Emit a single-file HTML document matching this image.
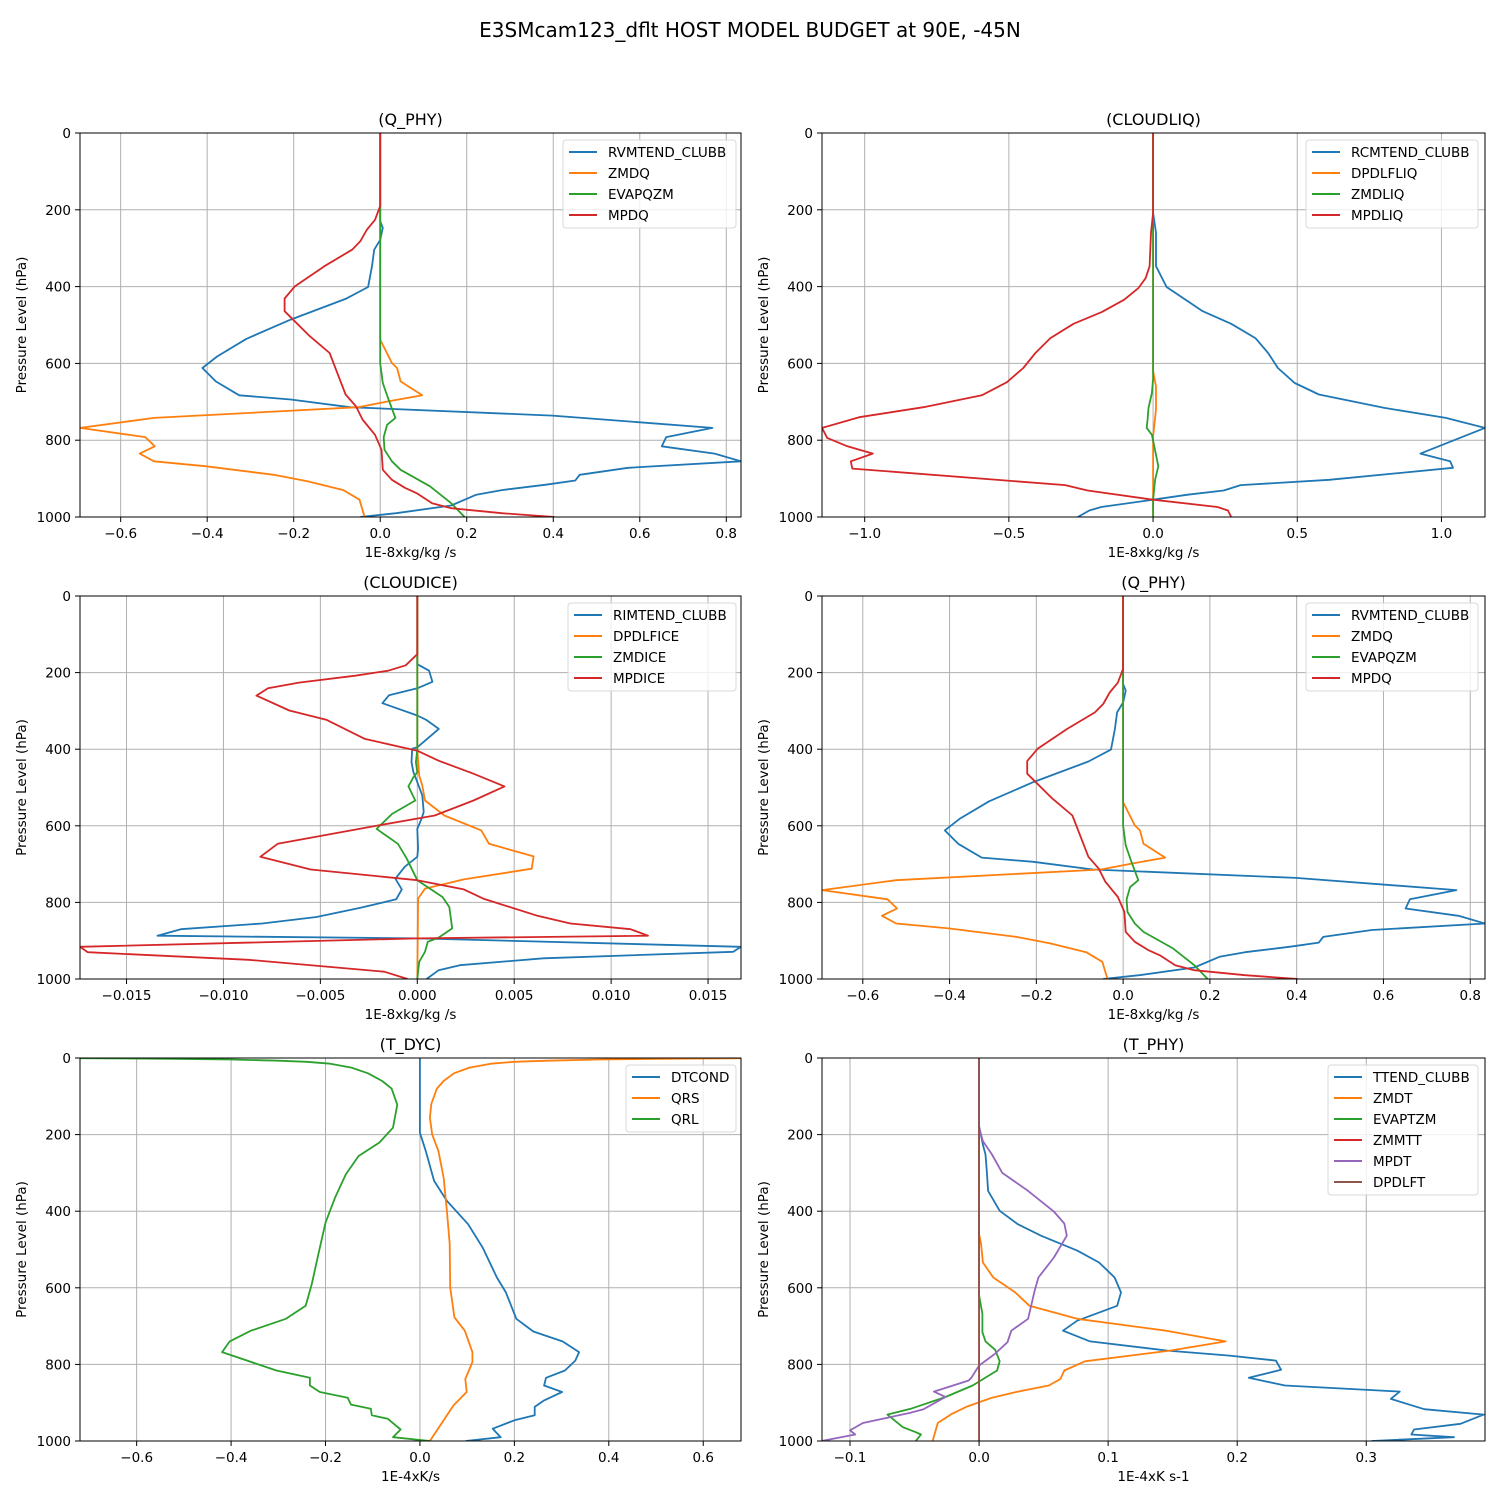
<!DOCTYPE html>
<html><head><meta charset="utf-8"><style>
html,body{margin:0;padding:0;background:#fff;}
svg text{font-family:"DejaVu Sans","Liberation Sans",sans-serif;fill:#000;}
</style></head><body>
<svg id="fig" width="1500" height="1500" viewBox="0 0 1500 1500" xmlns="http://www.w3.org/2000/svg">
<rect width="1500" height="1500" fill="#fff"/>
<text x="750" y="37" font-size="20" text-anchor="middle">E3SMcam123_dflt HOST MODEL BUDGET at 90E, -45N</text>
</svg>
<script>
// ---- Panel 1 / 4 : Q_PHY ----
const rvm_p = [0,178,230,247,278,304,347,401,432,486,536,582,612,647,683,694,714,736,768,792,816,835,855,872,890,905,916,930,942,970,990,1000];
const rvm_v = [0,0,0,0.006,0,-0.014,-0.019,-0.028,-0.08,-0.207,-0.309,-0.377,-0.411,-0.38,-0.326,-0.207,-0.07,0.398,0.768,0.661,0.651,0.773,0.834,0.573,0.461,0.451,0.383,0.281,0.222,0.164,0.037,-0.046];
const zmdq_p = [0,538,599,612,647,683,699,714,742,768,792,816,835,855,868,890,907,930,955,1000];
const zmdq_v = [0,0,0.027,0.039,0.047,0.097,0.018,-0.051,-0.523,-0.694,-0.543,-0.521,-0.556,-0.523,-0.402,-0.246,-0.168,-0.085,-0.048,-0.036];
const evq_p = [0,600,651,690,742,760,792,825,855,877,920,964,1000];
const evq_v = [0,0,0.006,0.018,0.035,0.016,0.008,0.01,0.027,0.047,0.115,0.164,0.195];
const mpdq_p = [0,190,226,252,282,304,347,399,431,464,529,573,681,712,746,786,825,877,903,924,939,964,977,990,1000];
const mpdq_v = [0,0,-0.012,-0.031,-0.046,-0.065,-0.129,-0.197,-0.221,-0.221,-0.163,-0.117,-0.08,-0.056,-0.041,-0.012,0.003,0.006,0.027,0.057,0.086,0.12,0.164,0.281,0.403];
// ---- Panel 2 : CLOUDLIQ ----
const rcm_p = [0,208,260,347,401,464,497,534,573,612,651,681,716,742,768,835,855,872,903,917,931,942,955,974,983,1000];
const rcm_v = [0,0,0.01,0.01,0.047,0.172,0.271,0.355,0.399,0.433,0.491,0.575,0.802,1.015,1.151,0.927,1.03,1.04,0.611,0.304,0.245,0.12,0,-0.18,-0.221,-0.261];
const dpliq_p = [0,620,660,720,790,1000];
const dpliq_v = [0,0,0.01,0.01,0,0];
const zmliq_p = [0,640,677,716,746,768,786,838,868,903,955,1000];
const zmliq_v = [0,0,-0.004,-0.016,-0.019,-0.022,-0.004,0.01,0.018,0.007,0,0];
const mpliq_p = [0,208,260,347,378,404,434,466,497,534,573,612,649,683,714,740,768,794,816,835,855,874,917,931,955,974,983,1000];
const mpliq_v = [0,0,-0.007,-0.012,-0.026,-0.051,-0.1,-0.177,-0.276,-0.356,-0.408,-0.45,-0.507,-0.594,-0.796,-1.019,-1.148,-1.13,-1.06,-0.972,-1.048,-1.043,-0.305,-0.227,0,0.223,0.26,0.271];
// ---- Panel 3 : CLOUDICE ----
const rim_p = [0,178,195,224,241,259,280,312,324,347,395,399,434,460,486,521,564,582,608,660,681,707,738,766,792,814,838,855,870,887,894,916,929,946,964,977,1000];
const rim_v = [0,0,0.00061,0.00078,0,-0.00146,-0.0018,0,0.00048,0.00111,0,-0.00026,-0.0003,-0.0002,0,0.00026,0.00033,0.00022,0,0.00004,0,-0.00065,-0.00113,-0.0008,-0.00109,-0.00293,-0.0052,-0.008,-0.0122,-0.0134,0,0.0167,0.0163,0.0065,0.0022,0.0011,0.00048];
const dpice_p = [0,400,469,495,534,573,612,647,680,712,740,764,790,1000];
const dpice_v = [0,0,0.0001,0.00026,0.0004,0.0014,0.0033,0.0037,0.006,0.0059,0.0024,0.0004,0.00004,0];
const zmice_p = [0,400,434,460,473,497,534,569,608,647,686,742,786,812,868,892,903,929,955,1000];
const zmice_v = [0,0,-0.00007,0,-0.0002,-0.00046,-0.0001,-0.0013,-0.0021,-0.001,-0.00054,0,0.0013,0.00165,0.0018,0.0011,0.00054,0.0004,0.0001,0];
const mpice_p = [0,152,181,195,208,226,241,260,299,323,373,404,430,464,497,534,573,599,647,681,714,742,766,790,835,855,870,887,894,916,930,950,981,1000];
const mpice_v = [0,0,-0.0006,-0.0015,-0.0032,-0.0061,-0.0077,-0.0083,-0.0066,-0.0047,-0.0027,0,0.0011,0.0029,0.0045,0.0029,0.0009,-0.002,-0.0072,-0.0081,-0.0055,0,0.0024,0.0034,0.0062,0.0079,0.011,0.0119,0,-0.0174,-0.017,-0.0087,-0.0017,-0.0005];
// ---- Panel 5 : T_DYC ----
const dtc_p = [0,195,243,321,373,434,495,573,612,681,714,740,768,790,816,835,855,872,894,911,933,946,968,990,1000];
const dtc_v = [0,0,0.0125,0.03,0.057,0.102,0.133,0.163,0.182,0.204,0.24,0.302,0.337,0.329,0.307,0.267,0.263,0.301,0.263,0.243,0.243,0.2,0.154,0.171,0.097];
const qrs_p = [0.5,2,4,7,10,15,25,40,60,80,120,156,200,243,312,399,486,599,677,712,768,794,838,872,907,1000];
const qrs_v = [0.68,0.5,0.38,0.27,0.2,0.15,0.105,0.072,0.05,0.036,0.024,0.021,0.026,0.039,0.05,0.057,0.063,0.064,0.073,0.095,0.111,0.111,0.096,0.099,0.071,0.021];
const qrl_p = [0.5,2,4,7,10,15,25,40,60,80,122,182,221,256,304,365,430,512,590,647,681,712,740,768,816,835,855,872,887,905,916,933,942,970,990,1000];
const qrl_v = [-0.72,-0.52,-0.4,-0.3,-0.24,-0.19,-0.145,-0.11,-0.08,-0.06,-0.048,-0.057,-0.086,-0.13,-0.157,-0.18,-0.2,-0.215,-0.229,-0.242,-0.284,-0.358,-0.403,-0.419,-0.304,-0.233,-0.233,-0.212,-0.153,-0.146,-0.104,-0.102,-0.068,-0.041,-0.057,0.021];
// ---- Panel 6 : T_PHY ----
const tt_p = [0,178,226,252,295,347,399,434,464,503,534,573,612,647,686,712,740,764,777,790,814,835,855,871,890,917,931,955,970,983,990,1000];
const tt_v = [0,0,0.003,0.005,0.006,0.007,0.016,0.03,0.048,0.076,0.093,0.105,0.11,0.107,0.076,0.065,0.086,0.146,0.194,0.23,0.234,0.209,0.237,0.326,0.319,0.345,0.391,0.373,0.337,0.335,0.368,0.304];
const zmdt_p = [0,460,486,534,573,612,647,681,712,740,764,792,816,838,855,871,887,911,929,953,1000];
const zmdt_v = [0,0,0.0016,0.003,0.011,0.028,0.039,0.076,0.145,0.191,0.148,0.082,0.066,0.063,0.054,0.03,0.01,-0.01,-0.021,-0.032,-0.036];
const evt_p = [0,620,668,716,740,762,792,816,855,885,916,931,964,977,983,1000];
const evt_v = [0,0,0.0026,0.0026,0.005,0.0125,0.016,0.014,-0.005,-0.026,-0.053,-0.071,-0.059,-0.049,-0.045,-0.049];
const zmmtt_p = [0,1000];
const zmmtt_v = [0,0];
const mpdt_p = [0,182,217,252,300,347,401,432,464,521,573,608,681,712,742,773,803,835,842,871,885,917,927,953,972,983,1000];
const mpdt_v = [0,0,0.003,0.01,0.018,0.038,0.058,0.066,0.068,0.058,0.046,0.043,0.038,0.025,0.022,0.012,0,-0.006,-0.008,-0.035,-0.026,-0.043,-0.054,-0.09,-0.1,-0.096,-0.122];
const dpdlft_p = [0,1000];
const dpdlft_v = [0,0];

const yTicks = [0,200,400,600,800,1000];
const ticksQ = [-0.6,-0.4,-0.2,0.0,0.2,0.4,0.6,0.8];
const labelsQ = ["−0.6","−0.4","−0.2","0.0","0.2","0.4","0.6","0.8"];
const ticksL = [-1.0,-0.5,0.0,0.5,1.0];
const labelsL = ["−1.0","−0.5","0.0","0.5","1.0"];
const ticksI = [-0.015,-0.010,-0.005,0.0,0.005,0.010,0.015];
const labelsI = ["−0.015","−0.010","−0.005","0.000","0.005","0.010","0.015"];
const ticksD = [-0.6,-0.4,-0.2,0.0,0.2,0.4,0.6];
const labelsD = ["−0.6","−0.4","−0.2","0.0","0.2","0.4","0.6"];
const ticksT = [-0.1,0.0,0.1,0.2,0.3];
const labelsT = ["−0.1","0.0","0.1","0.2","0.3"];

const C = ["#1f77b4","#ff7f0e","#2ca02c","#d62728","#9467bd","#8c564b"];
const NS = "http://www.w3.org/2000/svg";
const svg = document.getElementById('fig');
function mk(tag, attrs, parent){const e=document.createElementNS(NS,tag);for(const k in attrs)e.setAttribute(k,attrs[k]);(parent||svg).appendChild(e);return e;}

const panels = [
 {key:'q-phy-top',title:'(Q_PHY)',x0:80,x1:741,y0:133,y1:517,xmin:-0.694,xmax:0.834,ticks:ticksQ,labels:labelsQ,xlabel:'1E-8xkg/kg /s',
  series:[['RVMTEND_CLUBB',rvm_p,rvm_v],['ZMDQ',zmdq_p,zmdq_v],['EVAPQZM',evq_p,evq_v],['MPDQ',mpdq_p,mpdq_v]],leg:[563,736,140]},
 {key:'cloudliq',title:'(CLOUDLIQ)',x0:822,x1:1485,y0:133,y1:517,xmin:-1.148,xmax:1.151,ticks:ticksL,labels:labelsL,xlabel:'1E-8xkg/kg /s',
  series:[['RCMTEND_CLUBB',rcm_p,rcm_v],['DPDLFLIQ',dpliq_p,dpliq_v],['ZMDLIQ',zmliq_p,zmliq_v],['MPDLIQ',mpliq_p,mpliq_v]],leg:[1306,1478,140]},
 {key:'cloudice',title:'(CLOUDICE)',x0:80,x1:741,y0:596,y1:979,xmin:-0.0174,xmax:0.0167,ticks:ticksI,labels:labelsI,xlabel:'1E-8xkg/kg /s',
  series:[['RIMTEND_CLUBB',rim_p,rim_v],['DPDLFICE',dpice_p,dpice_v],['ZMDICE',zmice_p,zmice_v],['MPDICE',mpice_p,mpice_v]],leg:[568,736,603]},
 {key:'q-phy-mid',title:'(Q_PHY)',x0:822,x1:1485,y0:596,y1:979,xmin:-0.694,xmax:0.834,ticks:ticksQ,labels:labelsQ,xlabel:'1E-8xkg/kg /s',
  series:[['RVMTEND_CLUBB',rvm_p,rvm_v],['ZMDQ',zmdq_p,zmdq_v],['EVAPQZM',evq_p,evq_v],['MPDQ',mpdq_p,mpdq_v]],leg:[1306,1478,603]},
 {key:'t-dyc',title:'(T_DYC)',x0:80,x1:741,y0:1058,y1:1441,xmin:-0.72,xmax:0.68,ticks:ticksD,labels:labelsD,xlabel:'1E-4xK/s',
  series:[['DTCOND',dtc_p,dtc_v],['QRS',qrs_p,qrs_v],['QRL',qrl_p,qrl_v]],leg:[626,736,1065]},
 {key:'t-phy',title:'(T_PHY)',x0:822,x1:1485,y0:1058,y1:1441,xmin:-0.1217,xmax:0.392,ticks:ticksT,labels:labelsT,xlabel:'1E-4xK s-1',
  series:[['TTEND_CLUBB',tt_p,tt_v],['ZMDT',zmdt_p,zmdt_v],['EVAPTZM',evt_p,evt_v],['ZMMTT',zmmtt_p,zmmtt_v],['MPDT',mpdt_p,mpdt_v],['DPDLFT',dpdlft_p,dpdlft_v]],leg:[1328,1478,1065]}
];

panels.forEach(P=>{
  const g = mk('g',{});
  
  
  const xs = v => P.x0 + (v-P.xmin)/(P.xmax-P.xmin)*(P.x1-P.x0);
  const ys = p => P.y0 + p/1000*(P.y1-P.y0);
  const cp = 'clip-'+P.key;
  const cl = mk('clipPath',{id:cp},g);
  mk('rect',{x:P.x0,y:P.y0,width:P.x1-P.x0,height:P.y1-P.y0},cl);
  P.ticks.forEach((t,i)=>{
    const x=xs(t);
    const gl=mk('line',{x1:x,x2:x,y1:P.y0,y2:P.y1,stroke:'#b0b0b0','stroke-width':1},g);
    
    
    mk('line',{x1:x,x2:x,y1:P.y1,y2:P.y1+5,stroke:'#000','stroke-width':1},g);
    const tl=mk('text',{x:x,y:P.y1+21,'font-size':13.5,'text-anchor':'middle'},g);
    tl.textContent=P.labels[i];
    
    
  });
  yTicks.forEach(t=>{
    const y=ys(t);
    const gl=mk('line',{x1:P.x0,x2:P.x1,y1:y,y2:y,stroke:'#b0b0b0','stroke-width':1},g);
    
    
    mk('line',{x1:P.x0-5,x2:P.x0,y1:y,y2:y,stroke:'#000','stroke-width':1},g);
    const tl=mk('text',{x:P.x0-9,y:y+5,'font-size':13.5,'text-anchor':'end'},g);
    tl.textContent=String(t);
    
    
  });
  const sg = mk('g',{'clip-path':'url(#'+cp+')'},g);
  P.series.forEach((s,i)=>{
    const pts = s[1].map((p,k)=>xs(s[2][k]).toFixed(1)+','+ys(p).toFixed(1)).join(' ');
    const pl = mk('polyline',{points:pts,fill:'none',stroke:C[i],'stroke-width':1.8,'stroke-linejoin':'round'},sg);
    
    
  });
  mk('rect',{x:P.x0,y:P.y0,width:P.x1-P.x0,height:P.y1-P.y0,fill:'none',stroke:'#000','stroke-width':1},g);
  const tt=mk('text',{x:(P.x0+P.x1)/2,y:P.y0-8,'font-size':16,'text-anchor':'middle'},g);
  tt.textContent=P.title;
  
  
  const xl=mk('text',{x:(P.x0+P.x1)/2,y:P.y1+40,'font-size':13.5,'text-anchor':'middle'},g);
  xl.textContent=P.xlabel;
  
  
  const yc=(P.y0+P.y1)/2, yx=P.x0-54;
  const yl=mk('text',{x:yx,y:yc,'font-size':13.5,'text-anchor':'middle',transform:'rotate(-90 '+yx+' '+yc+')'},g);
  yl.textContent='Pressure Level (hPa)';
  
  
  const [lx0,lx1,ly0]=P.leg, n=P.series.length;
  const lg=mk('g',{},g);
  
  
  mk('rect',{x:lx0,y:ly0,width:lx1-lx0,height:n*21+4,rx:3,fill:'#fff','fill-opacity':0.8,stroke:'#d8d8d8','stroke-width':1},lg);
  P.series.forEach((s,i)=>{
    const y=ly0+12+i*21;
    const e=mk('g',{},lg);
    
    
    mk('line',{x1:lx0+6,x2:lx0+34,y1:y,y2:y,stroke:C[i],'stroke-width':2},e);
    const t=mk('text',{x:lx0+45,y:y+5,'font-size':13.5},e);
    t.textContent=s[0];
  });
});
</script>
</body></html>
